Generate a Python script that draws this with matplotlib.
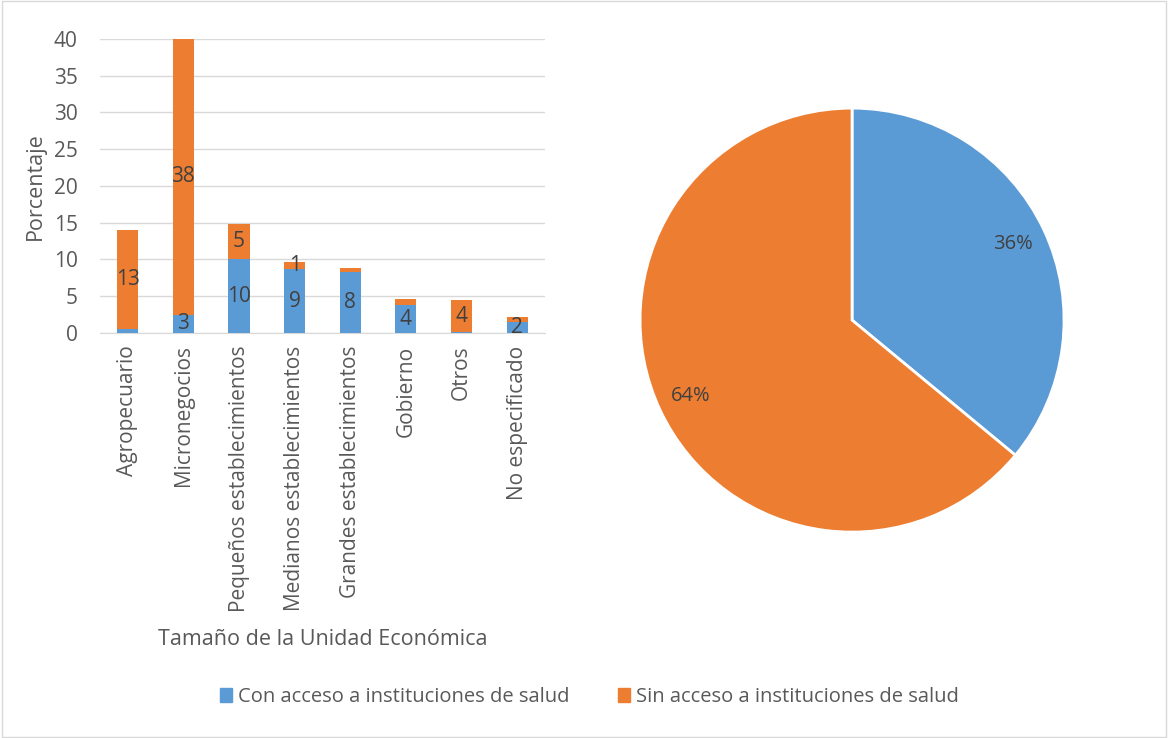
import numpy as np
import matplotlib.pyplot as plt
from matplotlib.patches import Rectangle

plt.rcParams['font.family'] = ['Open Sans', 'DejaVu Sans']

# Porcentaje por tamaño de unidad económica
categorias = ['Agropecuario', 'Micronegocios', 'Pequeños establecimientos',
              'Medianos establecimientos', 'Grandes establecimientos',
              'Gobierno', 'Otros', 'No especificado']
con_acceso = [0.6, 2.5, 10.0, 8.7, 8.3, 3.8, 0.1, 1.5]
sin_acceso = [13.4, 37.5, 4.8, 1.0, 0.6, 0.8, 4.4, 0.7]
# qué etiquetas de datos se muestran
etiqueta_con = [False, True, True, True, True, True, False, True]
etiqueta_sin = [True, True, True, True, False, False, True, False]

# Totales para el gráfico circular
pie_valores = [36, 64]
series = ['Con acceso a instituciones de salud', 'Sin acceso a instituciones de salud']

azul = '#5B9BD5'
naranja = '#ED7D31'
gris_txt = '#595959'
gris_dato = '#404040'


def redondeo(v):
    # redondeo como en Excel (mitades hacia arriba)
    return f'{int(np.floor(v + 0.5))}'


fig = plt.figure(figsize=(11.68, 7.38), dpi=100)
fig.patches.append(Rectangle((0.002, 0.002), 0.996, 0.996, transform=fig.transFigure,
                             fill=False, edgecolor='#d9d9d9', linewidth=1))

# barras apiladas
ax = fig.add_axes([0.0856, 0.5488, 0.381, 0.3984])
x = np.arange(len(categorias))
ancho = 0.38
ax.bar(x, con_acceso, ancho, color=azul, zorder=3)
ax.bar(x, sin_acceso, ancho, bottom=con_acceso, color=naranja, zorder=3)

for i in range(len(categorias)):
    if etiqueta_con[i]:
        ax.text(x[i], con_acceso[i] / 2, redondeo(con_acceso[i]), ha='center', va='center',
                fontsize=15, color=gris_dato, zorder=4)
    if etiqueta_sin[i]:
        ax.text(x[i], con_acceso[i] + sin_acceso[i] / 2, redondeo(sin_acceso[i]),
                ha='center', va='center', fontsize=15, color=gris_dato, zorder=4)

ax.set_xlim(-0.5, len(categorias) - 0.5)
ax.set_ylim(0, 40)
ax.set_yticks(np.arange(0, 41, 5))
ax.yaxis.grid(True, color='#d9d9d9', linewidth=1, zorder=0)
ax.set_xticks(x)
ax.set_xticklabels(categorias, rotation=90, fontsize=15, color=gris_txt)
ax.tick_params(axis='y', labelsize=15, colors=gris_txt, length=0, pad=16)
ax.tick_params(axis='x', length=0, pad=9)
for s in ['top', 'right', 'left']:
    ax.spines[s].set_visible(False)
ax.spines['bottom'].set_color('#d9d9d9')
ax.set_ylabel('Porcentaje', fontsize=15.5, color=gris_txt, labelpad=6)
ax.set_xlabel('Tamaño de la Unidad Económica', fontsize=15.5, color=gris_txt, labelpad=12)

# gráfico circular
ax2 = fig.add_axes([0.548, 0.279, 0.363, 0.5745])
ax2.pie(pie_valores, colors=[azul, naranja], startangle=90, counterclock=False,
        autopct='%1.0f%%', pctdistance=0.84,
        wedgeprops=dict(edgecolor='white', linewidth=2),
        textprops=dict(fontsize=14.5, color=gris_dato))
ax2.set_xlim(-1.0, 1.0)
ax2.set_ylim(-1.0, 1.0)
ax2.set_aspect('equal')

# leyenda
manijas = [Rectangle((0, 0), 1, 1, color=azul), Rectangle((0, 0), 1, 1, color=naranja)]
fig.legend(manijas, series, loc='center', bbox_to_anchor=(0.505, 0.055), ncol=2,
           frameon=False, fontsize=14.5, handlelength=0.6, handleheight=0.7,
           handletextpad=0.3, columnspacing=2.4, labelcolor=gris_txt)

fig.savefig('out.png', dpi=100)
